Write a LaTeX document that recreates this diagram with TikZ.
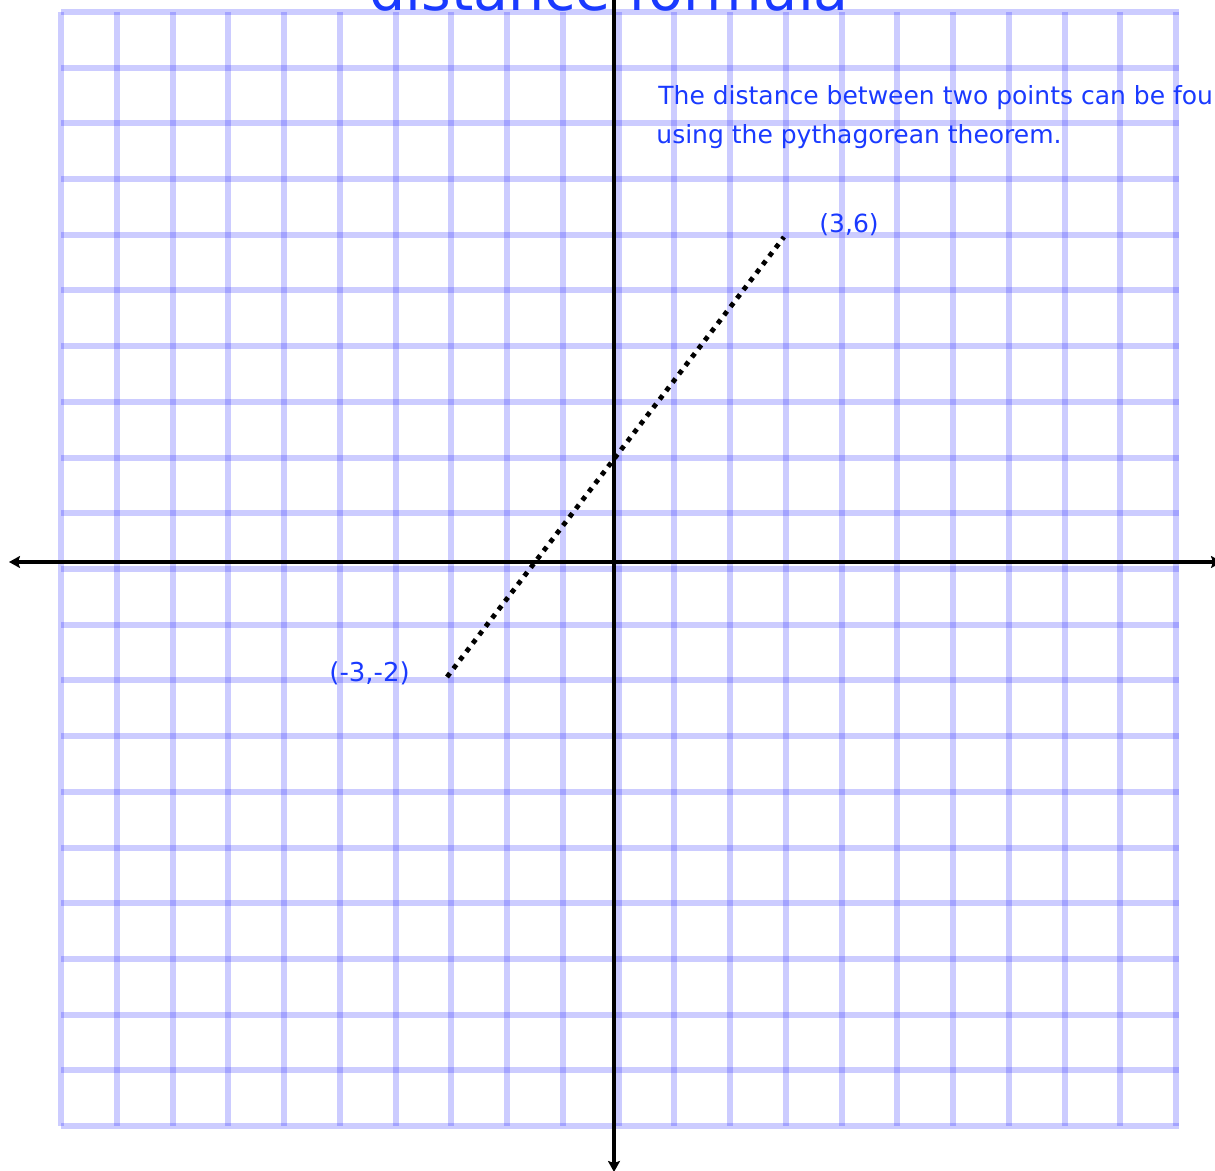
\documentclass[tikz,border=0pt]{standalone}
\usepackage{fontspec}
\setmainfont{DejaVu Sans}
\usetikzlibrary{arrows.meta}
\definecolor{inkblue}{RGB}{26,58,255}
\begin{document}
\begin{tikzpicture}[x=0.5pt,y=-0.5pt,
  gridline/.style={draw=blue,opacity=0.2,line width=3pt},
  axisline/.style={draw=black,line width=2pt,{Stealth[length=5.5pt,width=6pt,inset=1pt]}-{Stealth[length=5.5pt,width=6pt,inset=1pt]}},
  dotline/.style={draw=black,line width=2.4pt,dash pattern=on 2.4pt off 2.9pt},
  pttext/.style={text=inkblue,font=\fontsize{12.5pt}{15pt}\selectfont,inner sep=0pt,anchor=base west},
  titletext/.style={text=inkblue,font=\fontsize{28.5pt}{34pt}\selectfont,inner sep=0pt,anchor=base}]
\useasboundingbox (0,0) rectangle (1215,1171);
\fill[white] (0,0) rectangle (1215,1171);
\clip (0,0) rectangle (1215,1171);
% grid
\foreach \i in {0,...,20} {
  \draw[gridline] ({61+\i*55.75},12) -- ({61+\i*55.75},1126);
  \draw[gridline] (61,{12+\i*55.7}) -- (1179,{12+\i*55.7});
}
% texts
\node[titletext] (title) at (609,11) {distance formula};
\node[pttext] (desc1) at (658,104.5) {The distance between two points can be found};
\node[pttext] (desc2) at (656,144) {using the pythagorean theorem.};
% axes
\coordinate (xl) at (9,562);
\coordinate (xr) at (1222,562);
\coordinate (yt) at (614,-20);
\coordinate (yb) at (614,1172);
\draw[axisline] (xl) -- (xr);
\draw[axisline] (yt) -- (yb);
% segment
\coordinate (A) at (447,677);
\coordinate (B) at (784,237);
\draw[dotline] (A) -- (B);
\node[pttext,font=\fontsize{13pt}{15pt}\selectfont] (pA) at (329,681.5) {(-3,-2)};
\node[pttext] (pB) at (819,233) {(3,6)};
\end{tikzpicture}
\end{document}
